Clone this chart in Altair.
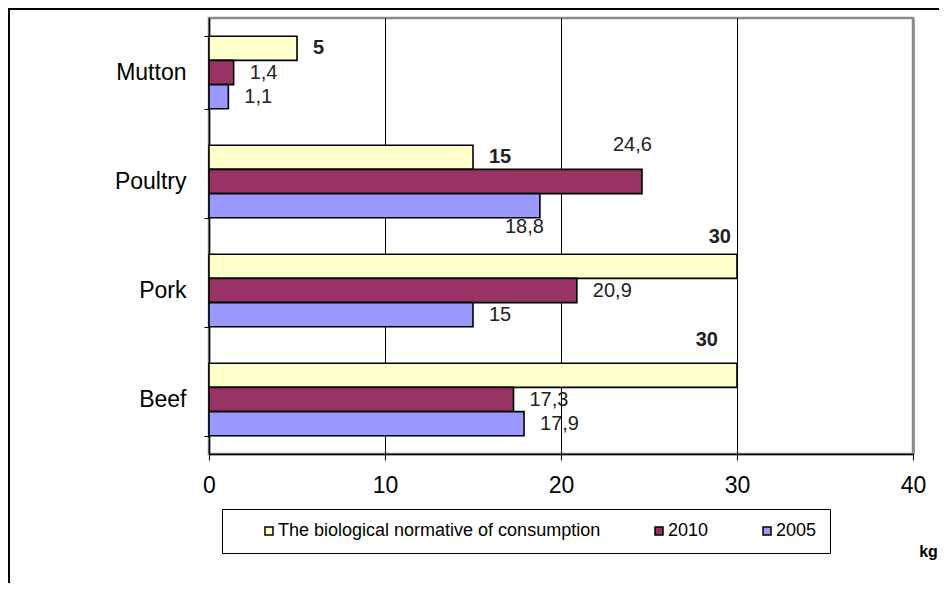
import altair as alt
import pandas as pd

categories = ["Mutton", "Poultry", "Pork", "Beef"]
series = ["The biological normative of consumption", "2010", "2005"]
normative = [5, 15, 30, 30]
values_2010 = [1.4, 24.6, 20.9, 17.3]
values_2005 = [1.1, 18.8, 15, 17.9]
x_ticks = [0, 10, 20, 30, 40]
colors = ["#FFFFCC", "#993366", "#9999FF"]

rows = []
for i, c in enumerate(categories):
    for s, v in zip(series, [normative[i], values_2010[i], values_2005[i]]):
        lab = ("%g" % v).replace(".", ",")
        rows.append({"cat": c, "series": s, "value": v, "label": lab,
                     "norm": s == series[0]})
df = pd.DataFrame(rows)

W, H = 704, 436
FONT = "Liberation Sans"

y_enc = alt.Y("cat:N", sort=categories,
              scale=alt.Scale(paddingInner=0.335, paddingOuter=0.1675),
              axis=alt.Axis(title=None, tickBand="extent", labelFontSize=23,
                            labelFont=FONT, labelColor="black", labelPadding=18,
                            tickSize=5, tickColor="black", domainColor="black",
                            domainWidth=1.5, grid=False, labelAngle=0))
yoff = alt.YOffset("series:N", sort=series)

base = alt.Chart(df)

bars = base.mark_bar(stroke="black", strokeWidth=1.6).encode(
    x=alt.X("value:Q", scale=alt.Scale(domain=[0, 40], nice=False),
            axis=alt.Axis(values=x_ticks, title="kg", titleFontSize=16,
                          titleFont=FONT, titleFontWeight="bold",
                          titleX=W + 15, titleY=102, titleAlign="center",
                          titleAnchor="start", titleBaseline="alphabetic",
                          labelFontSize=23, labelFont=FONT, labelColor="black",
                          labelPadding=14, tickSize=6, tickColor="black",
                          domainColor="black", domainWidth=1.5,
                          labelFlush=False,
                          grid=True,
                          gridColor={"condition": {"test": "datum.value == 40", "value": "#8a8a8a"},
                                     "value": "black"},
                          gridWidth={"condition": {"test": "datum.value == 40", "value": 2.5},
                                     "value": 1})),
    y=y_enc,
    yOffset=yoff,
    color=alt.Color("series:N", sort=series,
                    scale=alt.Scale(domain=series, range=colors),
                    legend=alt.Legend(title=None, orient="none", direction="horizontal",
                                      legendX=13, legendY=491,
                                      strokeColor="black", fillColor="white",
                                      padding=13, symbolType="square", symbolSize=64,
                                      symbolStrokeColor="black", symbolStrokeWidth=1.5,
                                      labelFont=FONT, labelFontSize=18,
                                      labelColor="black", labelLimit=0,
                                      columnPadding=24, symbolOffset=25,
                                      labelOffset=0)),
)

special_poultry_2010 = "datum.cat == 'Poultry' && datum.series == '2010'"
special_poultry_2005 = "datum.cat == 'Poultry' && datum.series == '2005'"
special_pork_norm = "datum.cat == 'Pork' && datum.norm"
special_beef_norm = "datum.cat == 'Beef' && datum.norm"
specials = [special_poultry_2010, special_poultry_2005, special_pork_norm, special_beef_norm]
not_special = "!(" + " || ".join("(" + s + ")" for s in specials) + ")"

def text_layer(filt, bold, **mk):
    return base.transform_filter(filt).mark_text(
        font=FONT, fontSize=20, baseline="middle", color="#222",
        fontWeight="bold" if bold else "normal", **mk
    ).encode(
        x="value:Q", y=alt.Y("cat:N", sort=categories), yOffset=yoff,
        text="label:N",
    )

lab_norm = text_layer(not_special + " && datum.norm", True, align="left", dx=16)
lab_other = text_layer(not_special + " && !datum.norm", False, align="left", dx=16)
l1 = text_layer(special_poultry_2010, False, align="left", dx=-29, dy=-37)
l2 = text_layer(special_poultry_2005, False, align="left", dx=-35, dy=21)
l3 = text_layer(special_pork_norm, True, align="right", dx=-6, dy=-29)
l4 = text_layer(special_beef_norm, True, align="right", dx=-19, dy=-35)

frame = alt.Chart(pd.DataFrame({"a": [0]})).mark_rect(
    fill=None, stroke="black", strokeWidth=2
).encode(x=alt.value(-200), x2=alt.value(W + 200), y=alt.value(-9), y2=alt.value(H + 300))

chart = alt.layer(frame, bars, lab_norm, lab_other, l1, l2, l3, l4).properties(
    width=W, height=H,
    autosize=alt.AutoSizeParams(type="none"),
    padding={"left": 201, "top": 10, "right": 26, "bottom": 129},
).configure_view(stroke="#8a8a8a", strokeWidth=2.5)

chart.save("out.html", embed_options={"renderer": "svg", "actions": False})
